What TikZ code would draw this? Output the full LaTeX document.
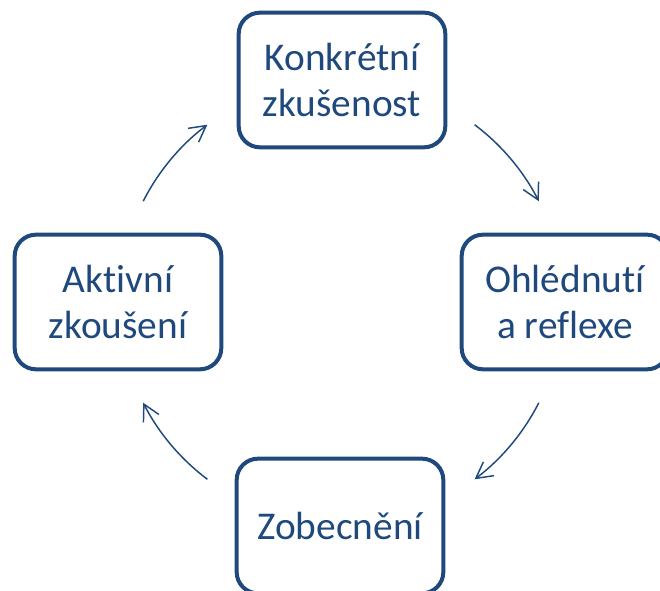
\documentclass[tikz,border=0pt]{standalone}
\usepackage{fontspec}
\setmainfont{Carlito}[Ligatures=NoCommon]
\usetikzlibrary{arrows.meta}

\definecolor{cycblue}{RGB}{31,73,125}

\tikzset{
  stagebox/.style={draw=cycblue, line width=3pt, rounded corners=16pt,
    minimum width=155pt, minimum height=101pt, align=center, text=cycblue,
    font=\fontsize{29.5}{35}\selectfont},
  cycarrow/.style={draw=cycblue, line width=1.1pt,
    -{Straight Barb[length=12pt,width=13pt]}}
}

\begin{document}
\begin{tikzpicture}[x=0.75pt,y=0.75pt,yscale=-1,xscale=1]
  \useasboundingbox (0,0) rectangle (660,591); %keep the picture 660 x 591

  % Centre of the cycle
  \coordinate (hub) at (341,302);

  % Rounded Rect [top]
  \node[stagebox] (konkretni) at (342,80) {Konkrétní\\zkušenost};
  % Rounded Rect [right]
  \node[stagebox] (ohlednuti) at (565,302) {Ohlédnutí\\a reflexe};
  % Rounded Rect [bottom]
  \node[stagebox] (zobecneni) at (340,526) {Zobecnění};
  % Rounded Rect [left]
  \node[stagebox] (aktivni) at (118,302) {Aktivní\\zkoušení};

  % Curved Arrows
  \draw[cycarrow] ([shift={(-53:222)}]hub) arc[start angle=-53, end angle=-27, radius=222];
  \draw[cycarrow] ([shift={(27:222)}]hub) arc[start angle=27, end angle=53, radius=222];
  \draw[cycarrow] ([shift={(127:222)}]hub) arc[start angle=127, end angle=153, radius=222];
  \draw[cycarrow] ([shift={(207:222)}]hub) arc[start angle=207, end angle=233, radius=222];

\end{tikzpicture}
\end{document}
